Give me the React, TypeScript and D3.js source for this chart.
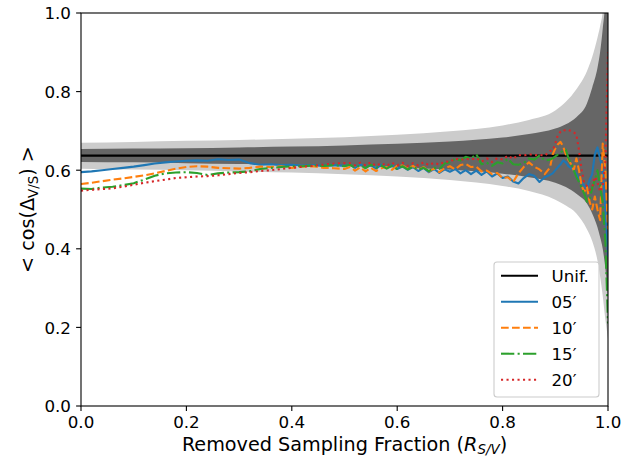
import React from 'react';
import * as d3 from 'd3';

// removed sampling fraction (x) for the measured curves
const fraction = [
  0.00, 0.02, 0.04, 0.06, 0.08, 0.10, 0.12, 0.14, 0.16, 0.18,
  0.20, 0.22, 0.24, 0.26, 0.28, 0.30, 0.32, 0.34, 0.36, 0.38,
  0.40, 0.42, 0.44, 0.46, 0.48, 0.50,
  0.51, 0.52, 0.53, 0.54, 0.55, 0.56, 0.57, 0.58, 0.59, 0.60,
  0.61, 0.62, 0.63, 0.64, 0.65, 0.66, 0.67, 0.68, 0.69, 0.70,
  0.71, 0.72, 0.73, 0.74, 0.75, 0.76, 0.77, 0.78, 0.79, 0.80,
  0.81, 0.82, 0.83, 0.84, 0.85, 0.86, 0.87, 0.88, 0.89,
  0.895, 0.90, 0.905, 0.91, 0.915, 0.92, 0.925, 0.93, 0.935, 0.94,
  0.945, 0.95, 0.955, 0.96, 0.965, 0.97, 0.975, 0.98, 0.985, 0.99,
  0.995, 1.00,
];

const series05 = [
  0.595, 0.597, 0.600, 0.603, 0.606, 0.609, 0.613, 0.617, 0.620, 0.622,
  0.624, 0.625, 0.624, 0.628, 0.626, 0.627, 0.618, 0.614, 0.615, 0.613,
  0.614, 0.612, 0.613, 0.611, 0.613, 0.611,
  0.614, 0.606, 0.615, 0.607, 0.613, 0.604, 0.614, 0.606, 0.612, 0.603,
  0.610, 0.601, 0.608, 0.598, 0.606, 0.595, 0.603, 0.593, 0.602, 0.596,
  0.603, 0.592, 0.600, 0.590, 0.599, 0.588, 0.597, 0.584, 0.592, 0.580,
  0.584, 0.571, 0.566, 0.580, 0.590, 0.586, 0.570, 0.582, 0.588,
  0.592, 0.600, 0.608, 0.615, 0.625, 0.620, 0.610, 0.605, 0.600, 0.590,
  0.575, 0.570, 0.560, 0.555, 0.575, 0.590, 0.640, 0.658, 0.630, 0.600,
  0.500, 0.380,
];

const series10 = [
  0.565, 0.568, 0.572, 0.576, 0.579, 0.583, 0.587, 0.592, 0.598, 0.604,
  0.608, 0.610, 0.609, 0.606, 0.605, 0.604, 0.606, 0.609, 0.608, 0.610,
  0.606, 0.609, 0.610, 0.606, 0.605, 0.603,
  0.608, 0.599, 0.607, 0.597, 0.606, 0.598, 0.605, 0.608, 0.601, 0.611,
  0.612, 0.604, 0.611, 0.601, 0.608, 0.597, 0.604, 0.595, 0.605, 0.610,
  0.602, 0.613, 0.616, 0.608, 0.609, 0.597, 0.599, 0.590, 0.593, 0.580,
  0.582, 0.570, 0.592, 0.608, 0.620, 0.609, 0.602, 0.590, 0.607,
  0.640, 0.655, 0.666, 0.672, 0.660, 0.640, 0.626, 0.615, 0.600, 0.630,
  0.600, 0.560, 0.545, 0.558, 0.520, 0.500, 0.533, 0.500, 0.473, 0.668,
  0.600, 0.450,
];

const series15 = [
  0.553, 0.552, 0.556, 0.558, 0.562, 0.567, 0.576, 0.586, 0.592, 0.594,
  0.595, 0.593, 0.588, 0.592, 0.594, 0.595, 0.597, 0.603, 0.606, 0.608,
  0.610, 0.610, 0.612, 0.611, 0.613, 0.610,
  0.614, 0.606, 0.613, 0.605, 0.614, 0.606, 0.612, 0.604, 0.611, 0.603,
  0.610, 0.602, 0.609, 0.601, 0.606, 0.598, 0.606, 0.603, 0.617, 0.620,
  0.629, 0.625, 0.634, 0.630, 0.641, 0.615, 0.619, 0.611, 0.620, 0.617,
  0.629, 0.615, 0.614, 0.618, 0.630, 0.627, 0.637, 0.625, 0.627,
  0.630, 0.635, 0.640, 0.645, 0.650, 0.652, 0.630, 0.617, 0.600, 0.583,
  0.570, 0.555, 0.540, 0.520, 0.525, 0.555, 0.575, 0.600, 0.560, 0.516,
  0.420, 0.210,
];

const series20 = [
  0.548, 0.550, 0.552, 0.554, 0.558, 0.563, 0.568, 0.572, 0.576, 0.580,
  0.582, 0.584, 0.585, 0.587, 0.590, 0.593, 0.595, 0.598, 0.600, 0.603,
  0.606, 0.609, 0.611, 0.614, 0.617, 0.618,
  0.618, 0.612, 0.619, 0.612, 0.620, 0.611, 0.618, 0.611, 0.619, 0.612,
  0.619, 0.611, 0.618, 0.612, 0.620, 0.613, 0.619, 0.614, 0.622, 0.621,
  0.630, 0.626, 0.629, 0.627, 0.631, 0.622, 0.630, 0.621, 0.631, 0.627,
  0.637, 0.629, 0.639, 0.637, 0.641, 0.638, 0.639, 0.637, 0.649,
  0.650, 0.668, 0.690, 0.698, 0.703, 0.700, 0.702, 0.700, 0.697, 0.690,
  0.651, 0.600, 0.567, 0.560, 0.550, 0.555, 0.583, 0.570, 0.545, 0.560,
  0.620, 0.900,
];

const unifLevel = 0.637;

// uniform expectation bands
const bandFraction = [0, 0.1, 0.2, 0.3, 0.4, 0.5, 0.6, 0.7, 0.8, 0.85, 0.9, 0.92, 0.94, 0.96, 0.97, 0.98, 0.985, 0.99, 0.995, 0.998, 1.0];
const lightUpper = [0.670, 0.672, 0.675, 0.677, 0.680, 0.684, 0.690, 0.699, 0.714, 0.728, 0.752, 0.774, 0.806, 0.852, 0.888, 0.937, 0.966, 1.005, 1.100, 1.300, 1.500];
const lightLower = [0.604, 0.602, 0.600, 0.597, 0.594, 0.590, 0.584, 0.575, 0.560, 0.547, 0.525, 0.510, 0.490, 0.450, 0.420, 0.370, 0.330, 0.280, 0.220, 0.190, 0.170];
const darkUpper = [0.654, 0.655, 0.656, 0.658, 0.660, 0.663, 0.667, 0.673, 0.683, 0.692, 0.706, 0.717, 0.735, 0.770, 0.810, 0.860, 0.900, 0.960, 1.040, 1.150, 1.250];
const darkLower = [0.621, 0.620, 0.618, 0.616, 0.614, 0.611, 0.607, 0.601, 0.591, 0.582, 0.568, 0.557, 0.540, 0.515, 0.490, 0.455, 0.430, 0.400, 0.350, 0.310, 0.280];

const tickValues = [0, 0.2, 0.4, 0.6, 0.8, 1.0];
const tickLabels = ['0.0', '0.2', '0.4', '0.6', '0.8', '1.0'];

const legendLabels = ['Unif.', '05\u2032', '10\u2032', '15\u2032', '20\u2032'];
const lineColors = ['#000000', '#1f77b4', '#ff7f0e', '#2ca02c', '#d62728'];
const lineDashes = ['', '', '7.7,3.3', '13.3,3.3,2.1,3.3', '2.1,3.4'];

const W = 640, H = 468;
const margin = { top: 13, right: 32, bottom: 62, left: 81 };
const FONT = 'DejaVu Sans, sans-serif';

export default function App() {
  const x = d3.scaleLinear().domain([0, 1]).range([margin.left, W - margin.right]);
  const y = d3.scaleLinear().domain([0, 1]).range([H - margin.bottom, margin.top]);

  const band = (upper: number[], lower: number[]) =>
    d3.area<number>()
      .x((d, i) => x(bandFraction[i]))
      .y0((d, i) => y(lower[i]))
      .y1((d) => y(d))
      .curve(d3.curveMonotoneX)(upper) || '';

  const line = d3.line<number>()
    .x((d, i) => x(fraction[i]))
    .y((d) => y(d));

  const allSeries = [series05, series10, series15, series20];

  const x0 = x(0), x1 = x(1), yTop = y(1), yBot = y(0);

  // legend box
  const lgRight = x1 - 9, lgBottom = yBot - 9;
  const lgW = 105, lgH = 135;
  const lgX = lgRight - lgW, lgY = lgBottom - lgH;

  return (
    <svg width={W} height={H} style={{ position: 'absolute', left: 0, top: 0, background: '#fff' }} fontFamily={FONT}>
      <defs>
        <clipPath id="plot">
          <rect x={x0} y={yTop} width={x1 - x0} height={yBot - yTop} />
        </clipPath>
      </defs>
      <g clipPath="url(#plot)">
        <path d={band(lightUpper, lightLower)} fill="#cccccc" />
        <path d={band(darkUpper, darkLower)} fill="#666666" />
        <line x1={x0} x2={x1} y1={y(unifLevel)} y2={y(unifLevel)} stroke="#000" strokeWidth={2.1} />
        {allSeries.map((s, k) => (
          <path key={k} d={line(s) || ''} fill="none" stroke={lineColors[k + 1]}
            strokeWidth={2.1} strokeDasharray={lineDashes[k + 1] || undefined} strokeLinejoin="round" />
        ))}
      </g>

      {/* spines */}
      <rect x={x0} y={yTop} width={x1 - x0} height={yBot - yTop} fill="none" stroke="#000" strokeWidth={1.1} />

      {/* x ticks */}
      {tickValues.map((t, i) => (
        <g key={'x' + i}>
          <line x1={x(t)} x2={x(t)} y1={yBot} y2={yBot + 4.9} stroke="#000" strokeWidth={1.1} />
          <text x={x(t)} y={428} textAnchor="middle" fontSize={16.7}>{tickLabels[i]}</text>
        </g>
      ))}
      {/* y ticks */}
      {tickValues.map((t, i) => (
        <g key={'y' + i}>
          <line x1={x0 - 4.9} x2={x0} y1={y(t)} y2={y(t)} stroke="#000" strokeWidth={1.1} />
          <text x={71} y={y(t) + 6.3} textAnchor="end" fontSize={16.7}>{tickLabels[i]}</text>
        </g>
      ))}

      {/* axis labels */}
      <text x={(x0 + x1) / 2} y={450.5} textAnchor="middle" fontSize={19.2}>
        Removed Sampling Fraction (<tspan fontStyle="italic">R</tspan>
        <tspan fontStyle="italic" fontSize={13.4} dy={3.6}>S/V</tspan>
        <tspan dy={-3.6}>)</tspan>
      </text>
      <text transform={`translate(34,${(yTop + yBot) / 2}) rotate(-90)`} textAnchor="middle" fontSize={19.2}>
        &lt; cos(Δ<tspan fontSize={13.4} dy={3.6}>V/S</tspan><tspan dy={-3.6}>) &gt;</tspan>
      </text>

      {/* legend */}
      <rect x={lgX} y={lgY} width={lgW} height={lgH} rx={3} fill="#fff" fillOpacity={0.8} stroke="#cccccc" strokeWidth={1.1} />
      {legendLabels.map((lab, i) => {
        const cy = lgY + 13.7 + i * 26;
        return (
          <g key={'lg' + i}>
            <line x1={lgX + 7} x2={lgX + 44} y1={cy} y2={cy} stroke={lineColors[i]} strokeWidth={2.1}
              strokeDasharray={lineDashes[i] || undefined} />
            <text x={lgX + 57.5} y={cy + 6.2} fontSize={16.7}>{lab}</text>
          </g>
        );
      })}
    </svg>
  );
}
